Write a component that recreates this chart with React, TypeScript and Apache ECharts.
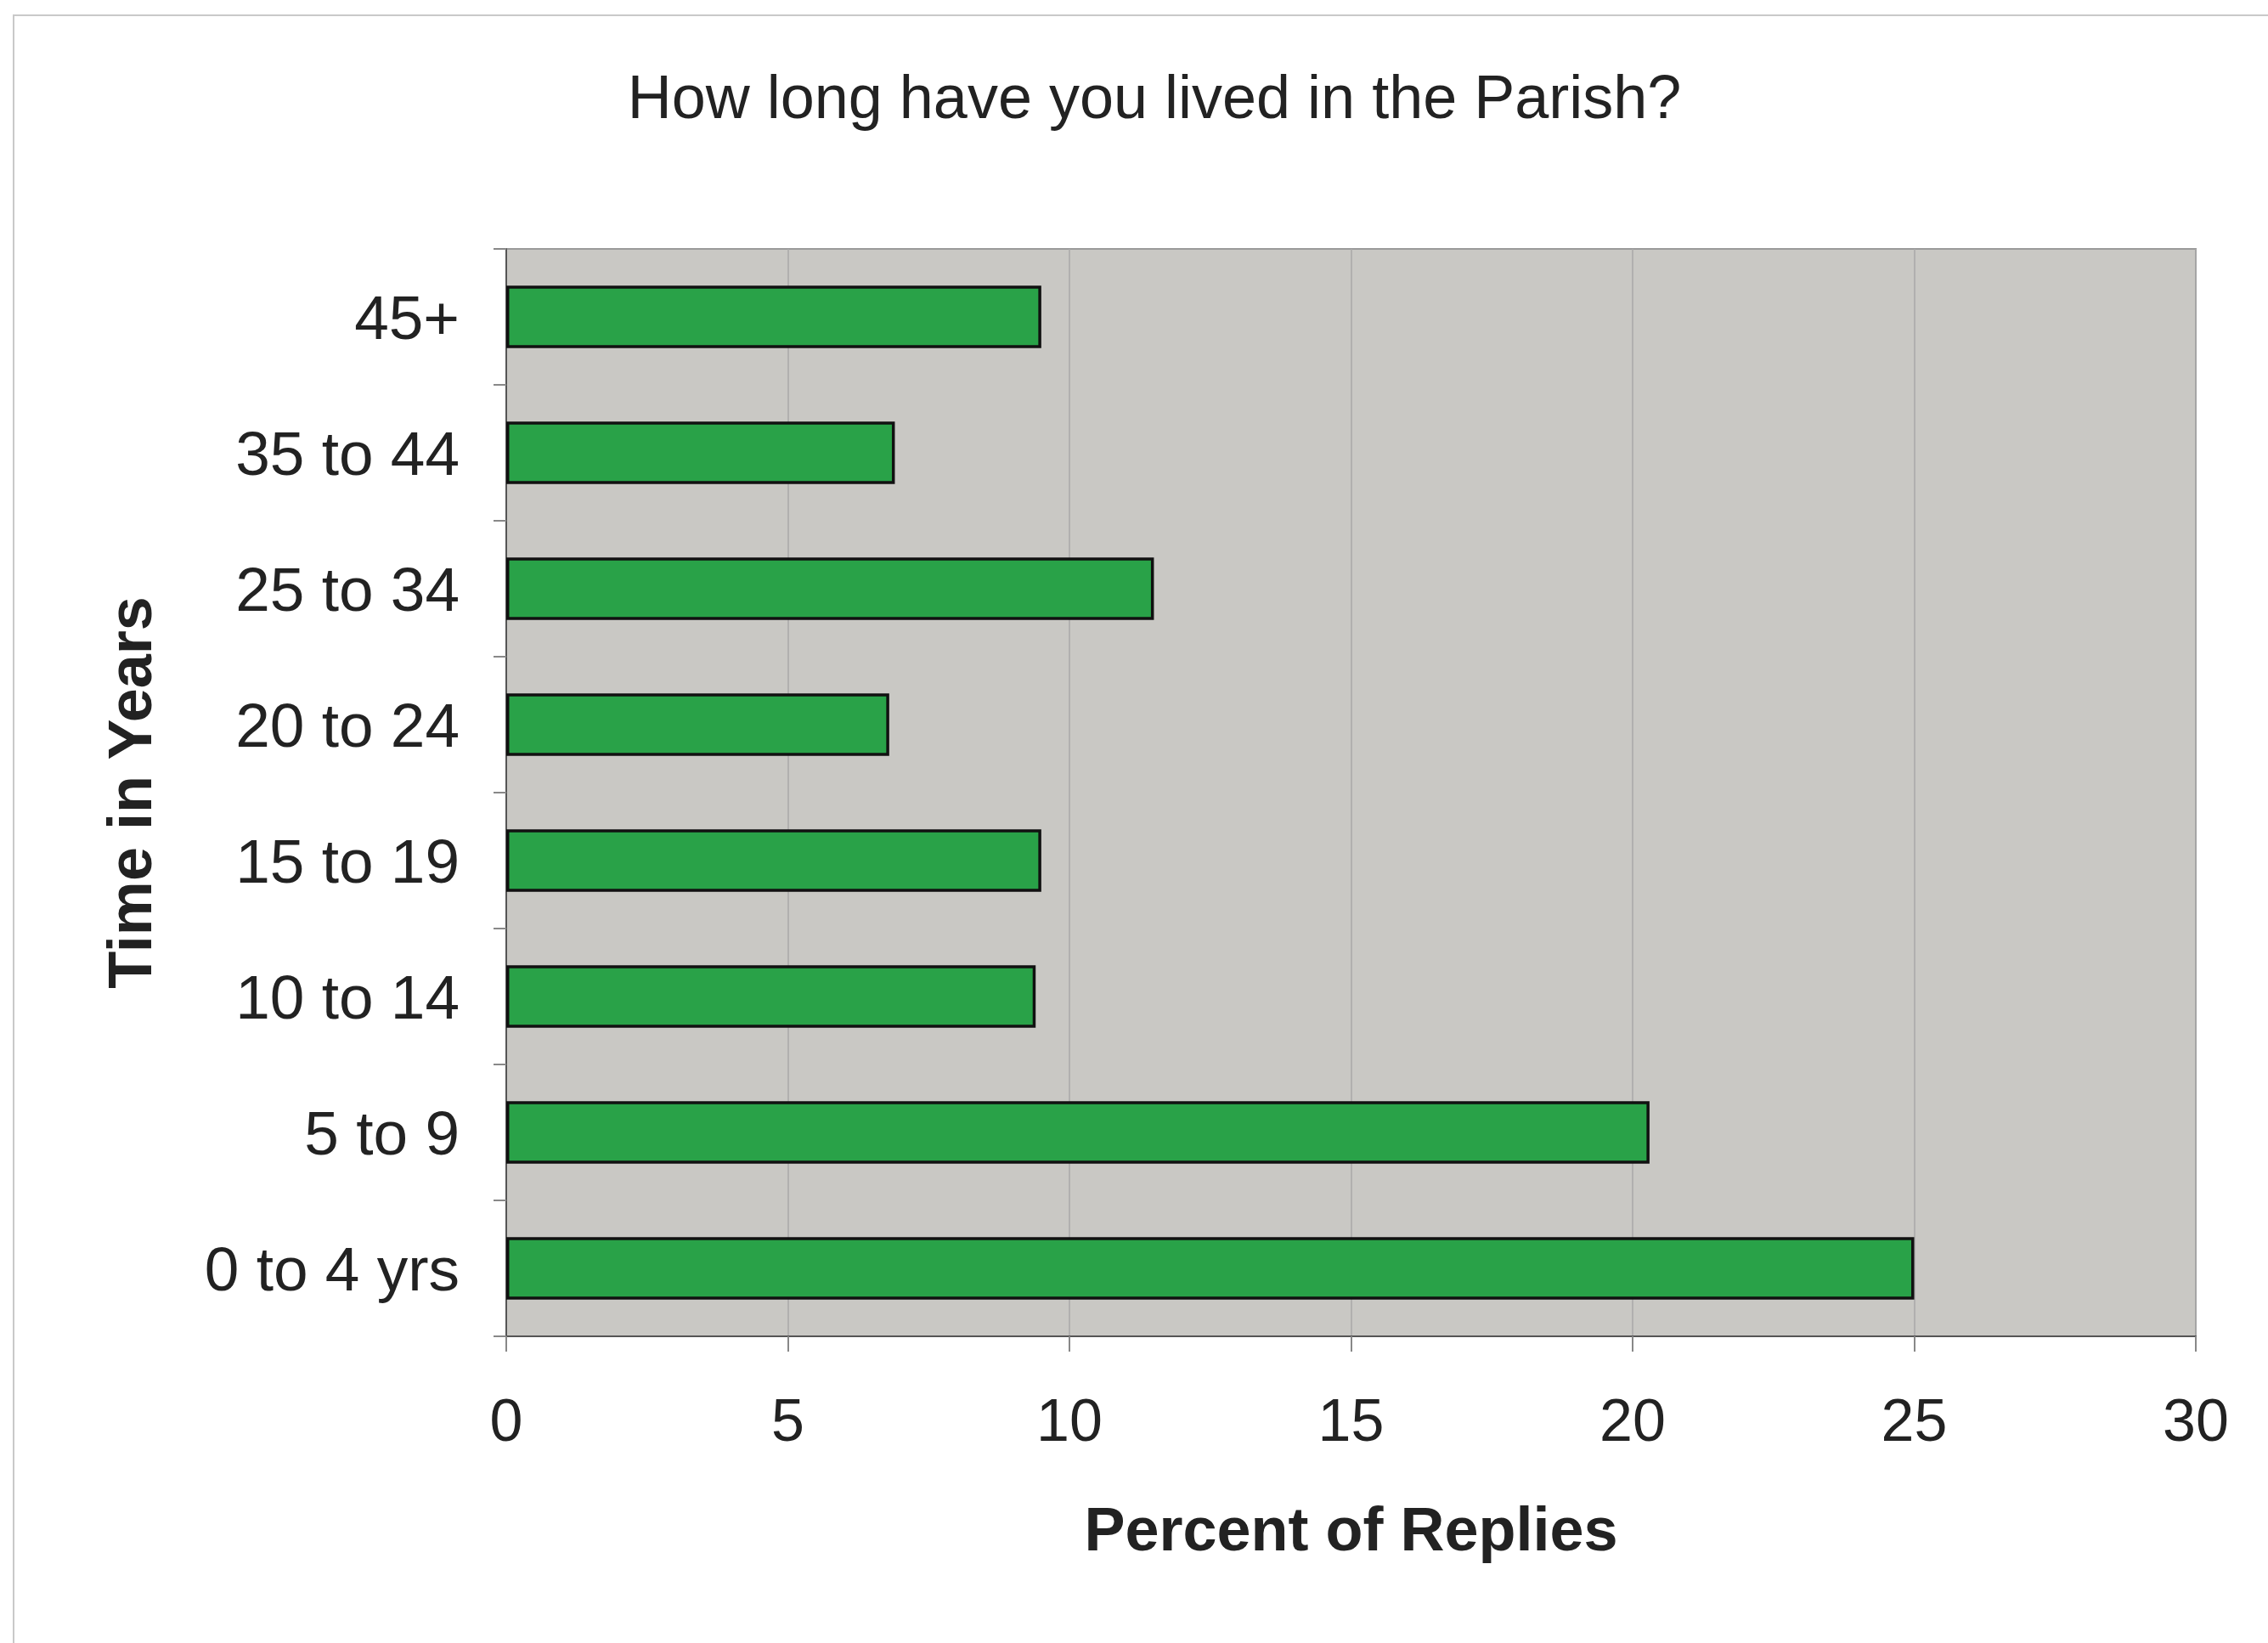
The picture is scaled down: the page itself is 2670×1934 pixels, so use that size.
import React, { useEffect, useRef } from "react";
import * as echarts from "echarts";

const categories = ["0 to 4 yrs", "5 to 9", "10 to 14", "15 to 19", "20 to 24", "25 to 34", "35 to 44", "45+"];
const percentValues = [25.0, 20.3, 9.4, 9.5, 6.8, 11.5, 6.9, 9.5];
const xTicks = { min: 0, max: 30, interval: 5 };
const titleText = "How long have you lived in the Parish?";
const xAxisTitle = "Percent of Replies";
const yAxisTitle = "Time in Years";

const FONT = "'Liberation Sans', Arial, sans-serif";

export default function App() {
  const ref = useRef<HTMLDivElement>(null);
  useEffect(() => {
    if (!ref.current) return;
    const chart = echarts.init(ref.current, null, { renderer: "svg" });
    chart.setOption({
      animation: false,
      backgroundColor: "#ffffff",
      graphic: [
        {
          type: "rect",
          shape: { x: 16, y: 18, width: 2800, height: 2100 },
          style: { fill: "none", stroke: "#c9c9c9", lineWidth: 2 },
          silent: true,
          z: -10,
        },
        {
          type: "text",
          x: 1359,
          y: 114,
          style: {
            text: titleText,
            font: `72px ${FONT}`,
            fill: "#222222",
            textAlign: "center",
            textVerticalAlign: "middle",
          },
        },
      ],
      grid: {
        left: 596,
        right: 85,
        top: 293,
        bottom: 361,
        show: true,
        backgroundColor: "#c9c8c4",
        borderColor: "#9a9a9a",
        borderWidth: 2,
      },
      xAxis: {
        type: "value",
        min: xTicks.min,
        max: xTicks.max,
        interval: xTicks.interval,
        name: xAxisTitle,
        nameLocation: "middle",
        nameGap: 191,
        nameTextStyle: { fontFamily: FONT, fontSize: 72, fontWeight: "bold", color: "#222222" },
        axisLine: { show: true, lineStyle: { color: "#555555", width: 2 } },
        axisTick: { show: true, length: 18, lineStyle: { color: "#888888", width: 2 } },
        axisLabel: { fontFamily: FONT, fontSize: 70, color: "#222222", margin: 64 },
        splitLine: { show: true, lineStyle: { color: "#a8a8a8", width: 1.5 } },
      },
      yAxis: {
        type: "category",
        data: categories,
        name: yAxisTitle,
        nameLocation: "middle",
        nameRotate: 90,
        nameGap: 407,
        nameTextStyle: { fontFamily: FONT, fontSize: 72, fontWeight: "bold", color: "#222222" },
        axisLine: { show: true, lineStyle: { color: "#555555", width: 2 } },
        axisTick: { show: true, length: 15, lineStyle: { color: "#888888", width: 2 } },
        axisLabel: { fontFamily: FONT, fontSize: 73, color: "#222222", margin: 55 },
        splitLine: { show: false },
      },
      series: [
        {
          type: "bar",
          data: percentValues,
          barWidth: "46%",
          itemStyle: { color: "#29a248", borderColor: "#111111", borderWidth: 3.5 },
        },
      ],
    });
    return () => chart.dispose();
  }, []);
  return (
    <div
      ref={ref}
      style={{ position: "absolute", left: 0, top: 0, width: 2670, height: 1934 }}
    />
  );
}
